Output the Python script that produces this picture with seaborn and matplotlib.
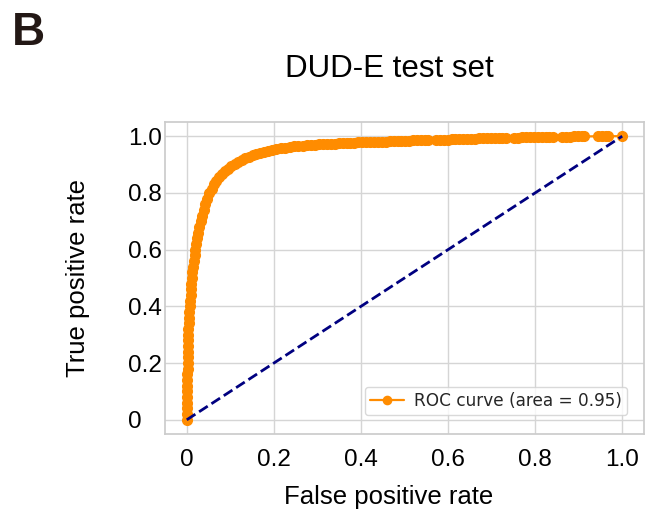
import matplotlib
matplotlib.use("Agg")
import matplotlib.pyplot as plt
import seaborn as sns

# ROC curve points (false positive rate, true positive rate)
fpr = [0.000, 0.000, 0.000, 0.000, 0.000, 0.001, 0.001, 0.001, 0.001, 0.002,
       0.002, 0.002, 0.003, 0.003, 0.003, 0.004, 0.004, 0.005, 0.006, 0.006,
       0.007, 0.008, 0.009, 0.010, 0.010, 0.011, 0.012, 0.014, 0.016, 0.018,
       0.020, 0.022, 0.024, 0.026, 0.029, 0.032, 0.035, 0.039, 0.043, 0.047,
       0.052, 0.057, 0.062, 0.068, 0.074, 0.080, 0.087, 0.094, 0.102, 0.110,
       0.118, 0.126, 0.134, 0.142, 0.151, 0.160, 0.169, 0.178, 0.187, 0.196,
       0.206, 0.216, 0.226, 0.236, 0.246, 0.256, 0.266, 0.276, 0.286, 0.295,
       0.304, 0.313, 0.322, 0.331, 0.340, 0.349, 0.358, 0.367, 0.376, 0.385,
       0.394, 0.403, 0.412, 0.421, 0.430, 0.439, 0.448, 0.457, 0.466, 0.475,
       0.484, 0.493, 0.502, 0.511, 0.520, 0.529, 0.538, 0.547, 0.555,
       0.572, 0.581, 0.590, 0.599, 0.608, 0.617, 0.626, 0.635, 0.644, 0.653,
       0.662, 0.671, 0.680, 0.689, 0.698, 0.707, 0.716, 0.725, 0.733,
       0.752, 0.761, 0.770, 0.779, 0.788, 0.797, 0.806, 0.815, 0.824, 0.833,
       0.840,
       0.862, 0.871, 0.880, 0.889, 0.898, 0.907, 0.913,
       0.945, 0.954, 0.963, 0.968,
       1.000]
tpr = [0.000, 0.020, 0.040, 0.060, 0.080, 0.100, 0.120, 0.140, 0.160, 0.180,
       0.200, 0.220, 0.240, 0.260, 0.280, 0.300, 0.320, 0.340, 0.360, 0.380,
       0.400, 0.420, 0.440, 0.460, 0.480, 0.500, 0.520, 0.540, 0.560, 0.580,
       0.600, 0.620, 0.640, 0.660, 0.680, 0.700, 0.720, 0.740, 0.760, 0.780,
       0.800, 0.815, 0.830, 0.843, 0.855, 0.866, 0.876, 0.885, 0.894, 0.902,
       0.909, 0.916, 0.922, 0.928, 0.933, 0.938, 0.942, 0.946, 0.949, 0.952,
       0.955, 0.958, 0.960, 0.962, 0.964, 0.966, 0.967, 0.968, 0.969, 0.970,
       0.971, 0.972, 0.973, 0.973, 0.974, 0.975, 0.975, 0.976, 0.977, 0.977,
       0.978, 0.978, 0.979, 0.979, 0.980, 0.980, 0.981, 0.981, 0.982, 0.982,
       0.983, 0.983, 0.984, 0.984, 0.985, 0.985, 0.985, 0.986, 0.986,
       0.987, 0.987, 0.988, 0.988, 0.989, 0.989, 0.990, 0.990, 0.990, 0.991,
       0.991, 0.992, 0.992, 0.993, 0.993, 0.994, 0.994, 0.994, 0.995,
       0.995, 0.995, 0.996, 0.996, 0.996, 0.996, 0.997, 0.997, 0.997, 0.997,
       0.998,
       0.998, 0.998, 0.998, 0.999, 0.999, 0.999, 0.999,
       1.000, 1.000, 1.000, 1.000,
       1.000]
roc_auc = 0.95

# chance line
chance_x = [0.0, 1.0]
chance_y = [0.0, 1.0]

tick_values = [0.0, 0.2, 0.4, 0.6, 0.8, 1.0]
tick_labels = ["0", "0.2", "0.4", "0.6", "0.8", "1.0"]

sns.set_theme(style="whitegrid")
plt.rcParams["font.family"] = ["Liberation Sans", "DejaVu Sans"]

fig = plt.figure(figsize=(6.56, 5.15), dpi=100)
ax = fig.add_axes([0.2515, 0.1573, 0.7302, 0.6058])

sns.lineplot(x=fpr, y=tpr, sort=False, estimator=None, ax=ax,
             color="darkorange", lw=1.6, marker="o", markersize=7,
             markeredgecolor="darkorange", markeredgewidth=1,
             label=f"ROC curve (area = {roc_auc:.2f})")
sns.lineplot(x=chance_x, y=chance_y, sort=False, estimator=None, ax=ax,
             color="navy", lw=2, linestyle="--")

ax.set_xlim(-0.05, 1.05)
ax.set_ylim(-0.05, 1.05)
ax.set_xticks(tick_values)
ax.set_xticklabels(tick_labels)
ax.set_yticks(tick_values)
ax.set_yticklabels(tick_labels)

ax.tick_params(axis="x", length=0, pad=10.8, labelsize=17.5, colors="black")
ax.tick_params(axis="y", length=0, pad=26.6, labelsize=17.5, colors="black")
for lbl in ax.get_yticklabels():
    lbl.set_horizontalalignment("left")

for sp in ax.spines.values():
    sp.set_color("#cccccc")
ax.grid(color="#d5d5d5", lw=1)

ax.set_xlabel("False positive rate", fontsize=18.5, color="black")
ax.set_ylabel("True positive rate", fontsize=18.5, color="black")
ax.xaxis.set_label_coords(0.4676, -0.1635)
ax.yaxis.set_label_coords(-0.1566, 0.5)

fig.text(389 / 656, 1 - 77 / 515, "DUD-E test set", fontsize=22.5,
         ha="center", va="baseline", color="black")
fig.text(12 / 656, 1 - 45 / 515, "B", fontsize=33, fontweight="bold",
         ha="left", va="baseline", color="#231815")

leg = ax.legend(loc="lower right", bbox_to_anchor=(0.9645, 0.0609),
                borderaxespad=0, prop={"family": "DejaVu Sans", "size": 12.2},
                borderpad=0.3, handletextpad=0.6, handlelength=2.0,
                markerscale=0.85)
leg.get_frame().set_edgecolor("#d0d0d0")

fig.savefig("out.png", dpi=100)
